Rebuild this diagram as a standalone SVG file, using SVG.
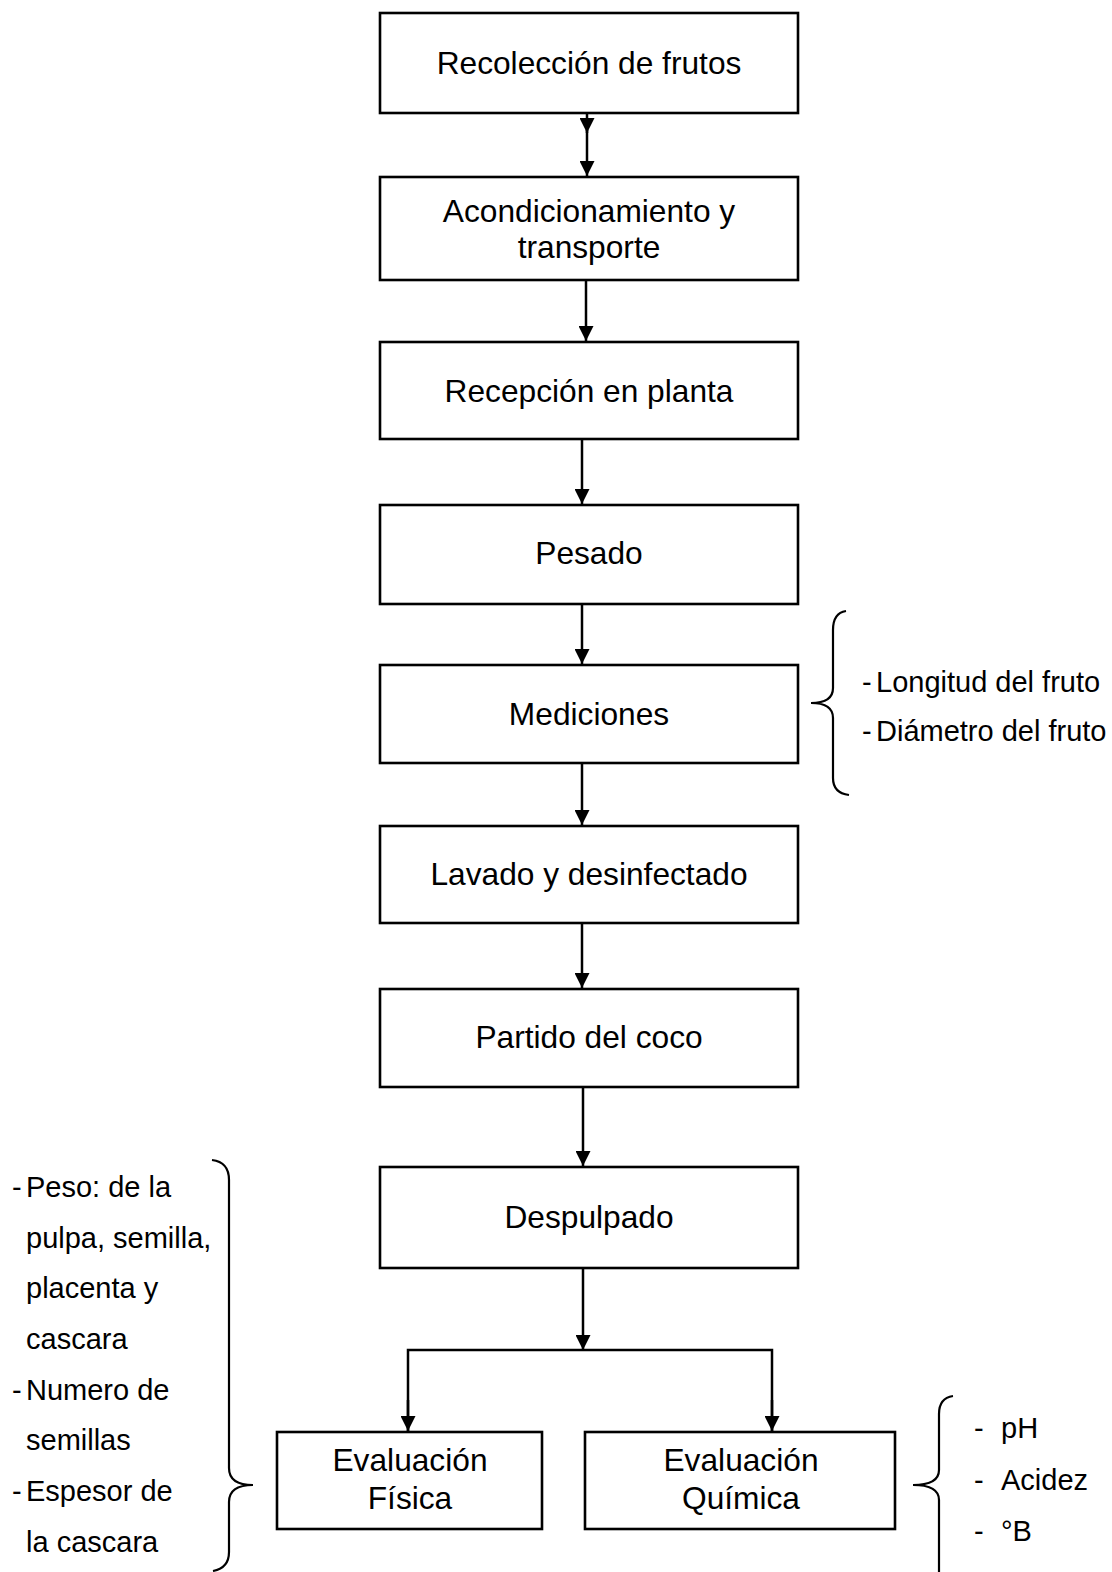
<svg xmlns="http://www.w3.org/2000/svg" width="1112" height="1572" viewBox="0 0 1112 1572">
<style>
.box{fill:#fff;stroke:#000;stroke-width:2.6}
.t{font-family:"Liberation Sans",Arial,sans-serif;font-size:31.7px;fill:#000;text-anchor:middle}
.s{font-family:"Liberation Sans",Arial,sans-serif;font-size:29px;fill:#000}
.c{fill:none;stroke:#000;stroke-width:2.5}
.br{fill:none;stroke:#000;stroke-width:2.2}
</style>
<defs>
<marker id="ah" viewBox="0 0 15 15" refX="15" refY="7.5" markerWidth="15" markerHeight="15" markerUnits="userSpaceOnUse" orient="auto">
<path d="M0,0 L15,7.5 L0,15 Z" fill="#000"/>
</marker>
</defs>
<rect width="1112" height="1572" fill="#fff"/>
<g id="connectors">
<line class="c" x1="587" y1="113" x2="587" y2="133" marker-end="url(#ah)"/>
<line class="c" x1="587" y1="130" x2="587" y2="176" marker-end="url(#ah)"/>
<line class="c" x1="586" y1="280" x2="586" y2="341" marker-end="url(#ah)"/>
<line class="c" x1="582" y1="439" x2="582" y2="504" marker-end="url(#ah)"/>
<line class="c" x1="582" y1="604" x2="582" y2="664" marker-end="url(#ah)"/>
<line class="c" x1="582" y1="763" x2="582" y2="825" marker-end="url(#ah)"/>
<line class="c" x1="582" y1="923" x2="582" y2="988" marker-end="url(#ah)"/>
<line class="c" x1="583" y1="1087" x2="583" y2="1166" marker-end="url(#ah)"/>
<line class="c" x1="583" y1="1268" x2="583" y2="1350" marker-end="url(#ah)"/>
<polyline class="c" points="408,1431 408,1350 772,1350 772,1431"/>
<line class="c" x1="408" y1="1400" x2="408" y2="1431" marker-end="url(#ah)"/>
<line class="c" x1="772" y1="1400" x2="772" y2="1431" marker-end="url(#ah)"/>
</g>
<g id="n1"><rect class="box" x="380" y="13" width="418" height="100"/><text class="t" x="589" y="74">Recolección de frutos</text></g>
<g id="n2"><rect class="box" x="380" y="177" width="418" height="103"/><text class="t" x="589" y="222">Acondicionamiento y</text><text class="t" x="589" y="258">transporte</text></g>
<g id="n3"><rect class="box" x="380" y="342" width="418" height="97"/><text class="t" x="589" y="402">Recepción en planta</text></g>
<g id="n4"><rect class="box" x="380" y="505" width="418" height="99"/><text class="t" x="589" y="564">Pesado</text></g>
<g id="n5"><rect class="box" x="380" y="665" width="418" height="98"/><text class="t" x="589" y="725">Mediciones</text></g>
<g id="n6"><rect class="box" x="380" y="826" width="418" height="97"/><text class="t" x="589" y="885">Lavado y desinfectado</text></g>
<g id="n7"><rect class="box" x="380" y="989" width="418" height="98"/><text class="t" x="589" y="1048">Partido del coco</text></g>
<g id="n8"><rect class="box" x="380" y="1167" width="418" height="101"/><text class="t" x="589" y="1228">Despulpado</text></g>
<g id="n9"><rect class="box" x="277" y="1432" width="265" height="97"/><text class="t" x="410" y="1471">Evaluación</text><text class="t" x="410" y="1509">Física</text></g>
<g id="n10"><rect class="box" x="585" y="1432" width="310" height="97"/><text class="t" x="741" y="1471">Evaluación</text><text class="t" x="741" y="1509">Química</text></g>
<g id="note-mediciones">
<path class="br" d="M846 611 Q833 613 833 630 L833 688 Q833 703 811 703 Q833 703 833 718 L833 778 Q833 793 849 795"/>
<text class="s" x="862" y="692">-</text><text class="s" x="876" y="692">Longitud del fruto</text>
<text class="s" x="862" y="741">-</text><text class="s" x="876" y="741">Diámetro del fruto</text>
</g>
<g id="note-fisica">
<path class="br" d="M212 1160 Q229 1162 229 1180 L229 1468 Q229 1485 253 1485 Q229 1485 229 1502 L229 1552 Q229 1568 213 1571"/>
<text class="s" x="12" y="1197">-</text><text class="s" x="26" y="1197">Peso: de la</text>
<text class="s" x="26" y="1248">pulpa, semilla,</text>
<text class="s" x="26" y="1298">placenta y</text>
<text class="s" x="26" y="1349">cascara</text>
<text class="s" x="12" y="1400">-</text><text class="s" x="26" y="1400">Numero de</text>
<text class="s" x="26" y="1450">semillas</text>
<text class="s" x="12" y="1501">-</text><text class="s" x="26" y="1501">Espesor de</text>
<text class="s" x="26" y="1552">la cascara</text>
</g>
<g id="note-quimica">
<path class="br" d="M953 1396 Q939 1398 939 1414 L939 1470 Q939 1485 913 1485 Q939 1485 939 1500 L939 1574"/>
<text class="s" x="974" y="1438">-</text><text class="s" x="1001" y="1438">pH</text>
<text class="s" x="974" y="1490">-</text><text class="s" x="1001" y="1490">Acidez</text>
<text class="s" x="974" y="1541">-</text><text class="s" x="1001" y="1541">°B</text>
</g>
</svg>
